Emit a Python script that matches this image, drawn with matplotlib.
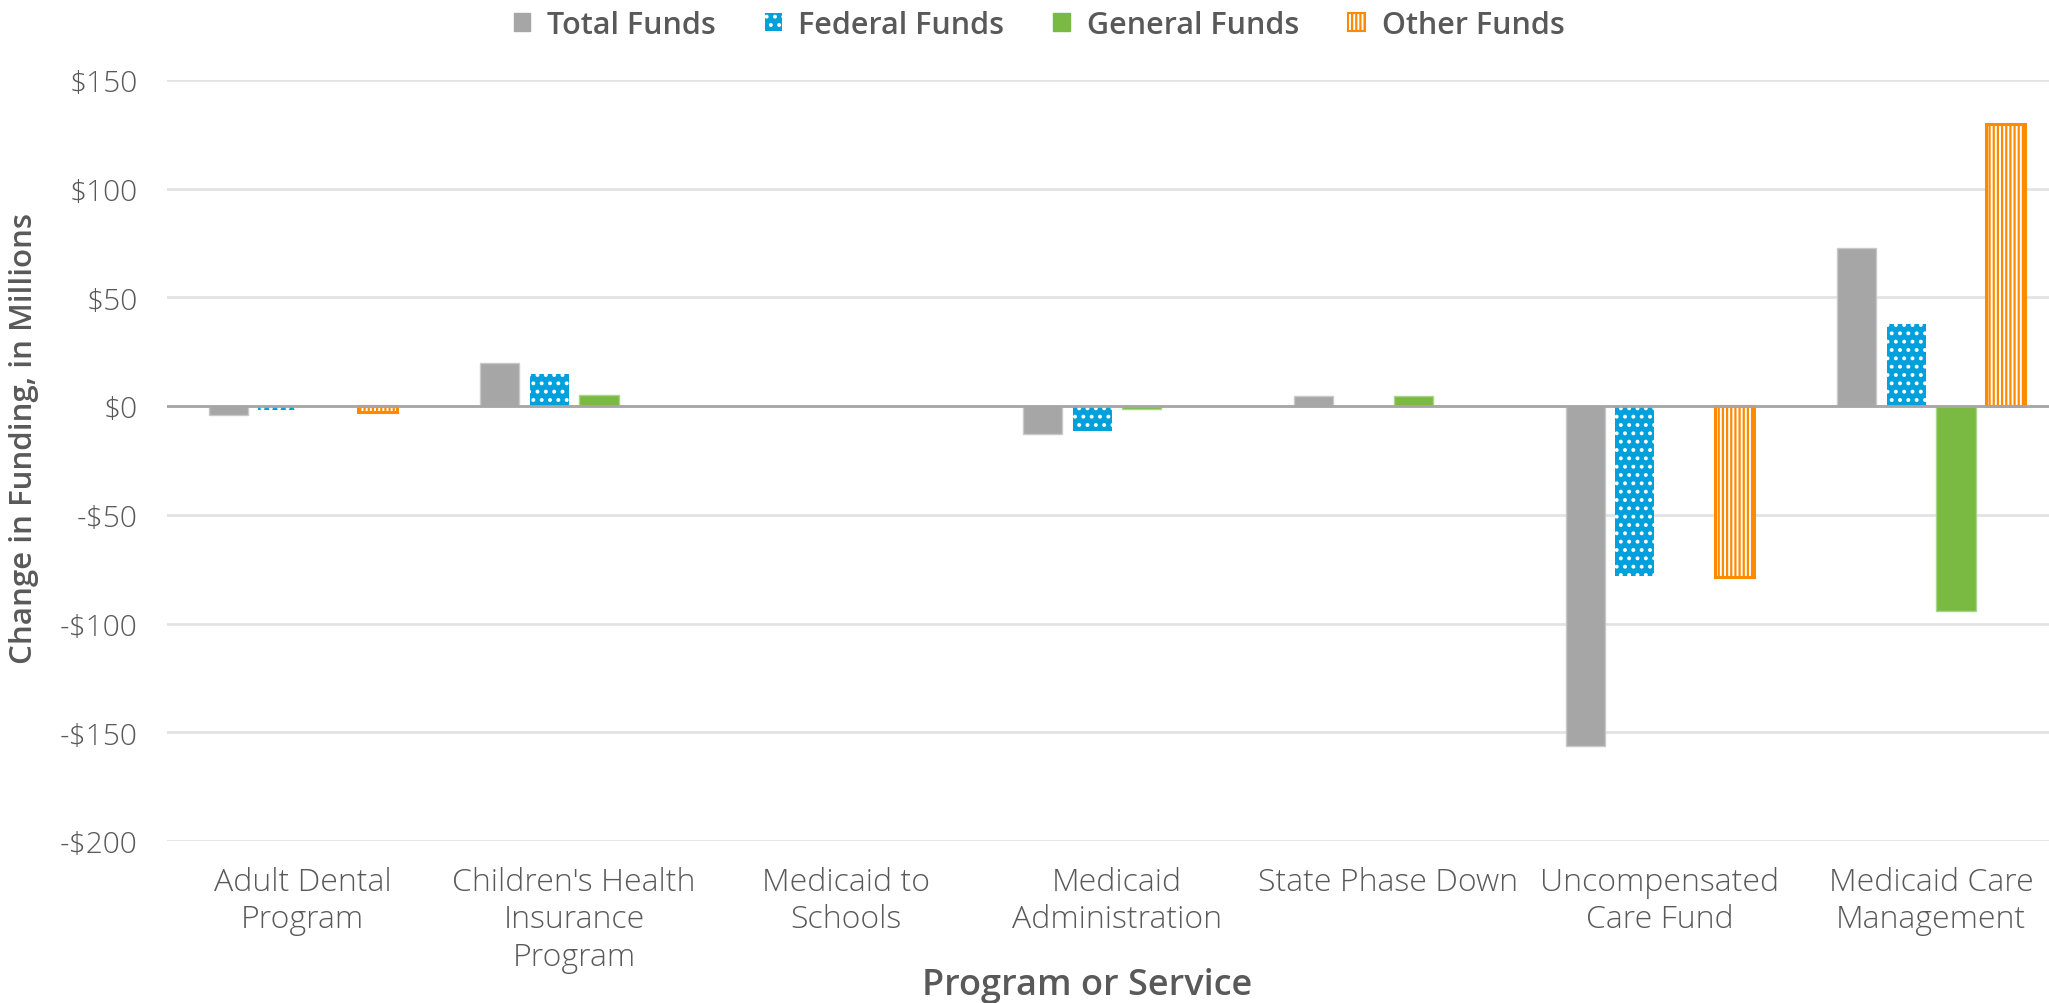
import numpy as np
import matplotlib
matplotlib.use("Agg")
import matplotlib.pyplot as plt
from matplotlib.patches import Patch

categories = ["Adult Dental\nProgram", "Children's Health\nInsurance\nProgram",
              "Medicaid to\nSchools", "Medicaid\nAdministration", "State Phase Down",
              "Uncompensated\nCare Fund", "Medicaid Care\nManagement"]
total_funds = [-4.3, 19.9, 0, -12.7, 4.5, -156.3, 72.7]
federal_funds = [-2.0, 14.7, 0, -11.3, 0, -78.0, 38.0]
general_funds = [0, 5.2, 0, -1.4, 4.5, 0, -94.3]
other_funds = [-2.5, 0, 0, 0, 0, -78.5, 129.6]
yticks = [150, 100, 50, 0, -50, -100, -150, -200]
ytick_labels = ["$150", "$100", "$50", "$0", "-$50", "-$100", "-$150", "-$200"]

FONT = "Open Sans"
TXT = "#595959"
plt.rcParams['font.family'] = [FONT, 'DejaVu Sans']
plt.rcParams['hatch.linewidth'] = 1.6

fig = plt.figure(figsize=(20.49, 10.04), dpi=100)
ax = fig.add_axes([167/2049, 1-842/1004, 1-167/2049, (842-81)/1004])

x = np.arange(len(categories))
w = 0.144
step = 0.183

def draw(vals, off, **kw):
    vals = np.array(vals, dtype=float)
    m = vals != 0
    ax.bar(x[m] + off, vals[m], width=w, zorder=3, **kw)

draw(total_funds, -1.5*step, color="#a6a6a6", edgecolor="#c8c8c8", linewidth=1)
draw(federal_funds, -0.5*step, facecolor="#00a0dc", edgecolor="white", linewidth=0, hatch="..")
draw(general_funds, 0.5*step, color="#7aba42", edgecolor="#a8d58a", linewidth=1)
draw(other_funds, 1.5*step, facecolor="white", edgecolor="#ff8a00", linewidth=2.2, hatch="||||")

ax.set_ylim(-200, 150)
ax.set_xlim(-0.5, 6.434)
ax.set_yticks(yticks)
ax.set_yticklabels(ytick_labels)
ax.set_xticks(x)
ax.set_xticklabels(categories, linespacing=1.22)
ax.yaxis.grid(True, color="#e3e3e3", linewidth=2, zorder=0)
ax.set_axisbelow(True)
ax.axhline(0, color="#a6a6a6", linewidth=2, zorder=4)
for s in ax.spines.values():
    s.set_visible(False)
ax.tick_params(axis='x', length=0, labelsize=23, labelcolor=TXT, pad=18)
ax.tick_params(axis='y', length=0, labelsize=21.5, labelcolor=TXT, pad=21)
for t in ax.get_xticklabels() + ax.get_yticklabels():
    t.set_fontweight('light')

fig.text(1087/2049, 1-986/1004, "Program or Service", ha='center', va='center',
         fontsize=26, color=TXT, fontweight='semibold')
fig.text(24/2049, 1-438/1004, "Change in Funding, in Millions", ha='center', va='center',
         rotation=90, fontsize=22.5, color=TXT, fontweight='semibold')

handles = [Patch(facecolor="#a6a6a6", edgecolor="#a6a6a6"),
           Patch(facecolor="#00a0dc", edgecolor="white", linewidth=0, hatch=".."),
           Patch(facecolor="#7aba42", edgecolor="#7aba42"),
           Patch(facecolor="white", edgecolor="#ff8a00", linewidth=1.5, hatch="||||")]
leg = fig.legend(handles, ["Total Funds", "Federal Funds", "General Funds", "Other Funds"],
                 loc='center', bbox_to_anchor=(1039/2049, 1-26/1004), ncol=4, frameon=False,
                 handlelength=0.55, handleheight=0.55, handletextpad=0.55, columnspacing=1.6,
                 prop={'family': FONT, 'size': 22, 'weight': 'semibold'})
for t in leg.get_texts():
    t.set_color(TXT)

fig.savefig("out.png", dpi=100)
